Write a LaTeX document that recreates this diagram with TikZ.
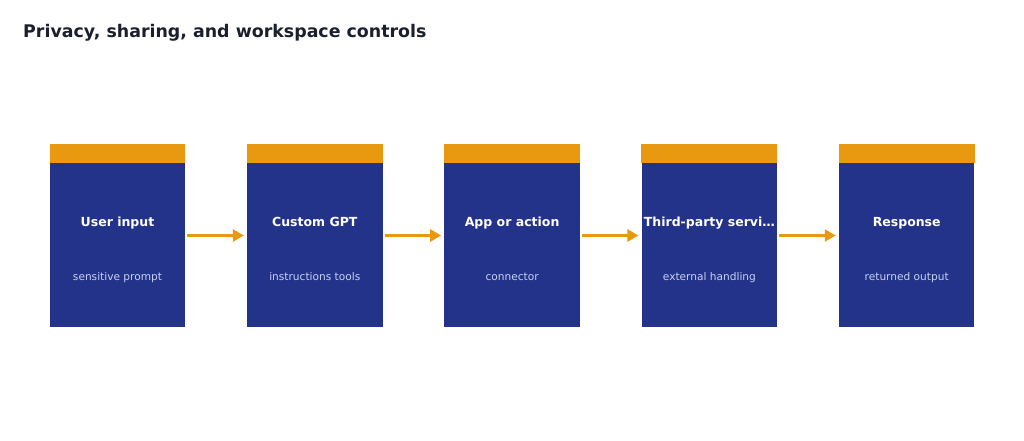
\documentclass[tikz,border=0pt]{standalone}
\usepackage{fontspec}
\setmainfont{DejaVu Sans}
\usetikzlibrary{positioning,calc,arrows.meta}

\definecolor{navy}{HTML}{23338A}
\definecolor{amber}{HTML}{E8990F}
\definecolor{ink}{HTML}{1A1F2E}
\definecolor{pale}{HTML}{C9D1F2}

\tikzset{
  card/.style={fill=navy, minimum width=135.5pt, minimum height=183pt, inner sep=0pt},
  band/.style={fill=amber},
  heading/.style={anchor=base, text=white, font=\bfseries\fontsize{12.5}{14}\selectfont},
  caption/.style={anchor=base, text=pale, font=\fontsize{10.6}{12}\selectfont},
  flow/.style={draw=amber, line width=2.7pt, -{Triangle[length=11pt,width=12pt]}},
}

\begin{document}
\begin{tikzpicture}[x=1pt, y=1pt, node distance=61.4pt]
    % Page frame
    \useasboundingbox (0,0) rectangle (1024,-441);

    % Title
    \node[anchor=base west, text=ink, inner sep=0pt, font=\bfseries\fontsize{17.4}{20}\selectfont] (title) at (23,-37.5) {Privacy, sharing, and workspace controls};

    % Cards
    \node[card] (user) at (117.5,-235.5) {};
    \node[card, right=of user] (gpt) {};
    \node[card, right=of gpt] (app) {};
    \node[card, right=of app] (third) {};
    \node[card, right=of third] (resp) {};

    % Orange bands on top
    \foreach \c in {user,gpt,app,third,resp}
        \fill[band] (\c.north west) rectangle ([yshift=-19pt]\c.north east);

    % Headings and captions
    \node[heading] (userhead) at ($(user.center)+(0,9.5)$) {User input};
    \node[caption] (usercap) at ($(user.center)+(0,-44.5)$) {sensitive prompt};
    \node[heading] (gpthead) at ($(gpt.center)+(0,9.5)$) {Custom GPT};
    \node[caption] (gptcap) at ($(gpt.center)+(0,-44.5)$) {instructions tools};
    \node[heading] (apphead) at ($(app.center)+(0,9.5)$) {App or action};
    \node[caption] (appcap) at ($(app.center)+(0,-44.5)$) {connector};
    \node[heading] (thirdhead) at ($(third.center)+(0,9.5)$) {Third-party servi…};
    \node[caption] (thirdcap) at ($(third.center)+(0,-44.5)$) {external handling};
    \node[heading] (resphead) at ($(resp.center)+(0,9.5)$) {Response};
    \node[caption] (respcap) at ($(resp.center)+(0,-44.5)$) {returned output};

    % Arrows between cards
    \draw[flow, shorten <=2pt, shorten >=3pt] (user.east) -- (gpt.west);
    \draw[flow, shorten <=2pt, shorten >=3pt] (gpt.east) -- (app.west);
    \draw[flow, shorten <=2pt, shorten >=3pt] (app.east) -- (third.west);
    \draw[flow, shorten <=2pt, shorten >=3pt] (third.east) -- (resp.west);
\end{tikzpicture}
\end{document}
